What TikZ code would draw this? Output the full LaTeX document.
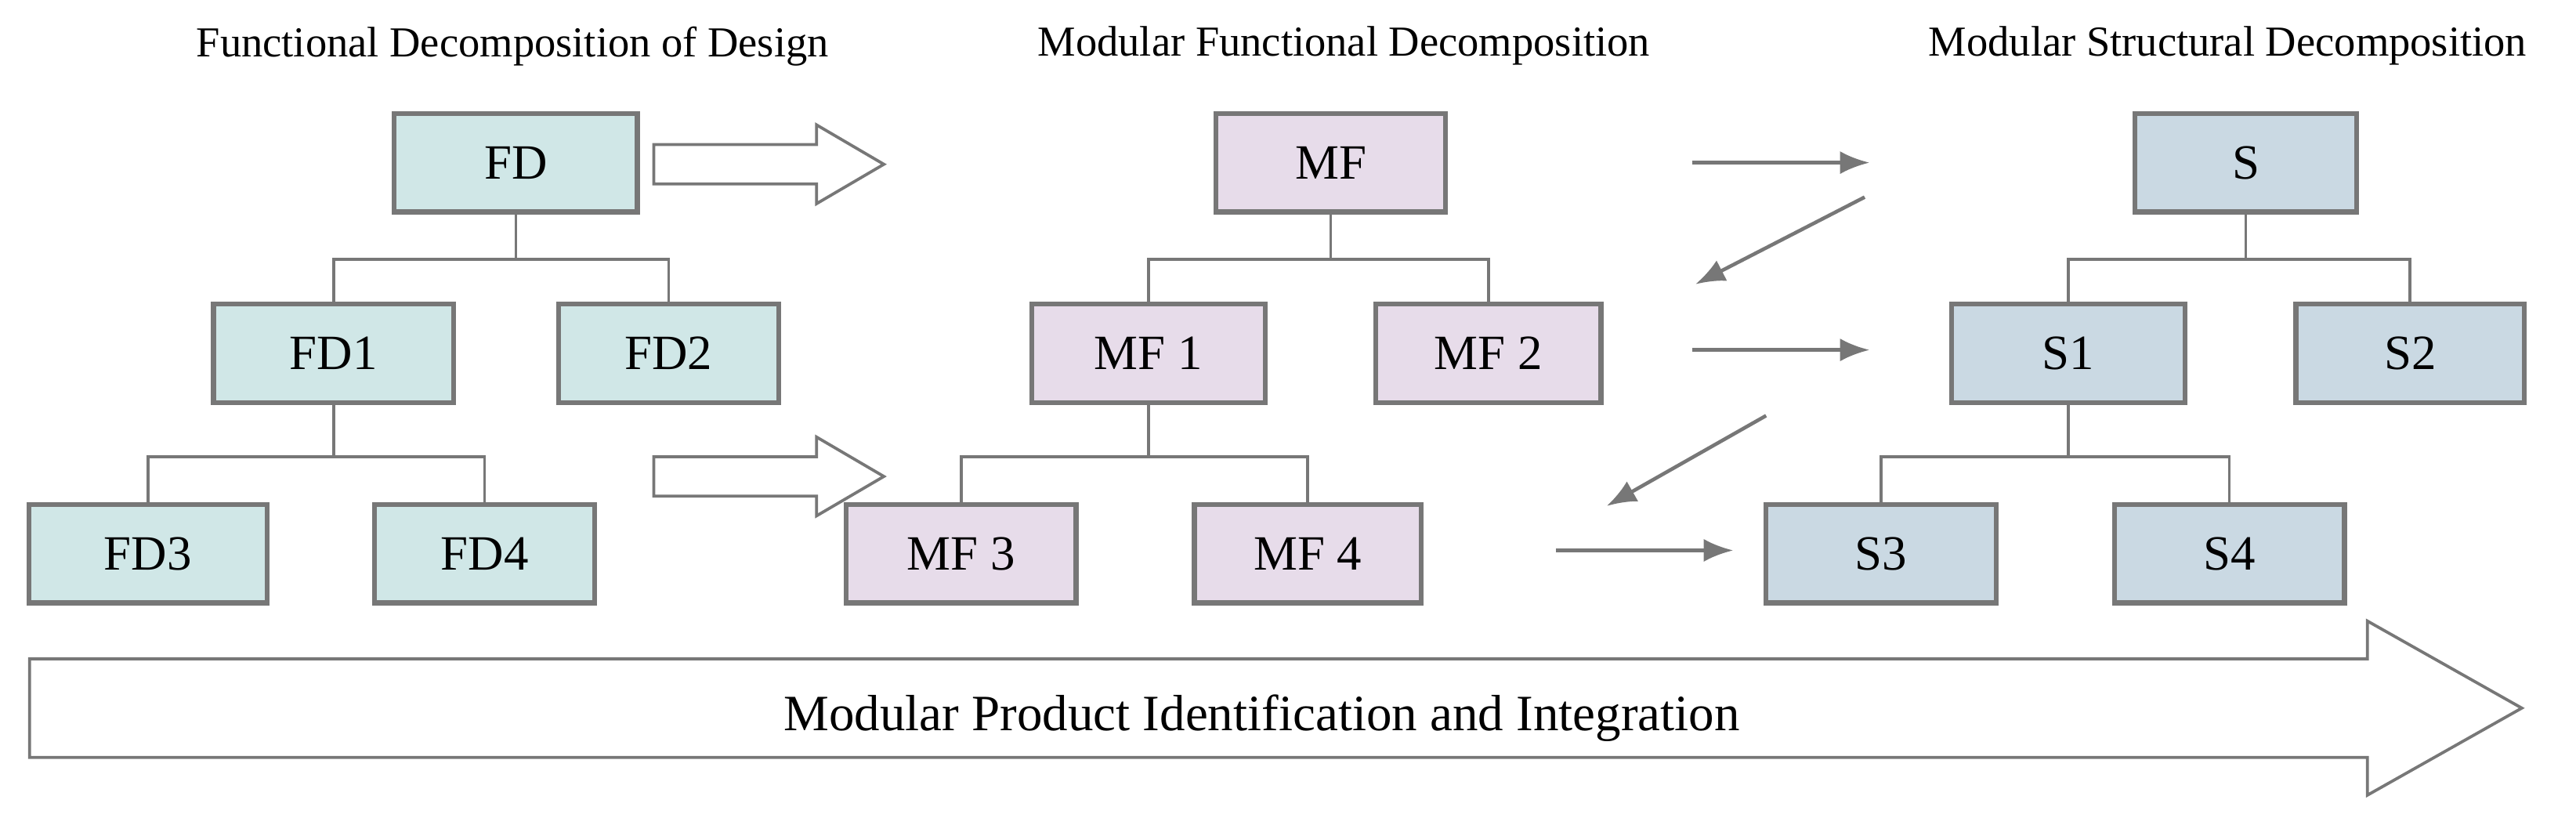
\documentclass[tikz,border=0pt]{standalone}
\usepackage{fontspec}
\setmainfont{Liberation Serif}
\begin{document}
\begin{tikzpicture}[x=1pt,y=-1pt,
  box/.style={draw=bord,line width=3pt,minimum width=140pt,minimum height=60pt,font=\fontsize{30}{34}\selectfont,inner sep=0pt},
  fd/.style={box,fill=fdc}, mf/.style={box,fill=mfc}, sb/.style={box,fill=sc},
  tree/.style={draw=bord,line width=1.8pt},
  ttl/.style={font=\fontsize{26}{30}\selectfont},
  sol/.style={draw=bord,line width=2.2pt,-{Latex[length=18pt,width=14pt]}},
  hol/.style={draw=bord,line width=1.8pt,fill=white}]
\usetikzlibrary{arrows.meta}
\definecolor{bord}{HTML}{777777}
\definecolor{fdc}{HTML}{D0E7E7}
\definecolor{mfc}{HTML}{E7DCEA}
\definecolor{sc}{HTML}{CAD9E3}
\useasboundingbox (0,0) rectangle (1568,502);
\node[ttl] (t1) at (312,28) {Functional Decomposition of Design};
\node[ttl] (t2) at (818,28) {Modular Functional Decomposition};
\node[ttl] (t3) at (1356,28) {Modular Structural Decomposition};
% FD
\node[fd,minimum width=148pt] (FD) at (314,99) {FD};
\node[fd,minimum width=146pt] (FD1) at (203,215) {FD1};
\node[fd,minimum width=134pt] (FD2) at (407,215) {FD2};
\node[fd,minimum width=145pt] (FD3) at (90,337) {FD3};
\node[fd,minimum width=134pt] (FD4) at (295,337) {FD4};
% MF
\node[mf] (MF) at (810,99) {MF};
\node[mf,minimum width=142pt] (MF1) at (699,215) {MF 1};
\node[mf,minimum width=137pt] (MF2) at (906,215) {MF 2};
\node[mf] (MF3) at (585,337) {MF 3};
\node[mf,minimum width=138pt] (MF4) at (796,337) {MF 4};
% S
\node[sb,minimum width=135pt] (S) at (1367,99) {S};
\node[sb,minimum width=142pt] (S1) at (1259,215) {S1};
\node[sb,minimum width=139pt] (S2) at (1467,215) {S2};
\node[sb] (S3) at (1145,337) {S3};
\node[sb] (S4) at (1357,337) {S4};
% trees
\foreach \p/\a/\b/\ya in {FD/FD1/FD2/158, FD1/FD3/FD4/278, MF/MF1/MF2/158, MF1/MF3/MF4/278, S/S1/S2/158, S1/S3/S4/278}{
  \draw[tree] (\p.south) -- (\p.south |- 0,\ya);
  \draw[tree] (\a.north) -- (\a.north |- 0,\ya) -- (\b.north |- 0,\ya) -- (\b.north);
}
% hollow arrows
\foreach \yy in {100,290}{
  \draw[hol] (398,\yy-12) -- (497,\yy-12) -- (497,\yy-24) -- (538,\yy) -- (497,\yy+24) -- (497,\yy+12) -- (398,\yy+12) -- cycle;
}
% solid arrows
\coordinate (a1) at (1030,99); \coordinate (b1) at (1138,99);
\coordinate (a2) at (1135,120); \coordinate (b2) at (1032,173);
\coordinate (a3) at (1030,213); \coordinate (b3) at (1138,213);
\coordinate (a4) at (1075,253); \coordinate (b4) at (978,308);
\coordinate (a5) at (947,335); \coordinate (b5) at (1055,335);
\foreach \i in {1,...,5}{\draw[sol] (a\i) -- (b\i);}
% big arrow
\draw[hol] (18,401) -- (1441,401) -- (1441,378) -- (1535,431) -- (1441,484) -- (1441,461) -- (18,461) -- cycle;
\node[font=\fontsize{31}{36}\selectfont] (big) at (768,437) {Modular Product Identification and Integration};
\end{tikzpicture}
\end{document}
